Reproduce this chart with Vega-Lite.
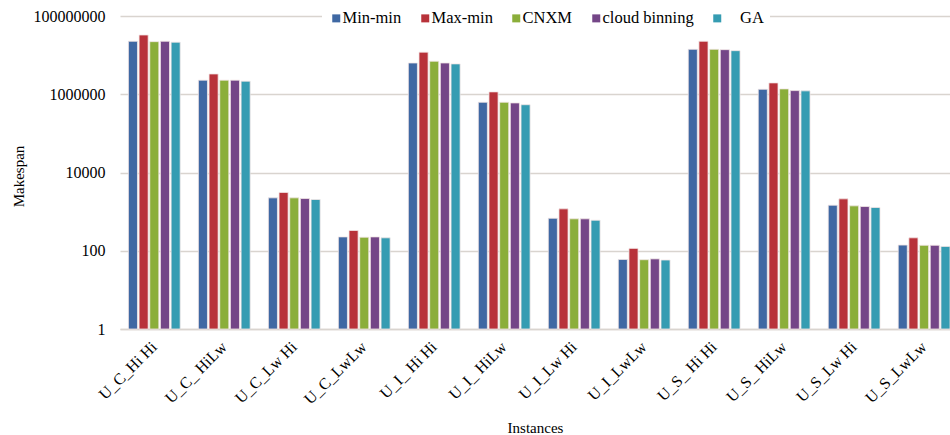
{
  "$schema": "https://vega.github.io/schema/vega-lite/v6.json",
  "autosize": {"type": "none"},
  "padding": {"left": 120, "top": 16, "right": 0, "bottom": 106},
  "width": 830,
  "height": 313,
  "background": "white",
  "config": {
    "font": "Liberation Serif",
    "view": {"stroke": null},
    "axis": {"labelFont": "Liberation Serif", "titleFont": "Liberation Serif"},
    "legend": {"labelFont": "Liberation Serif", "titleFont": "Liberation Serif"}
  },
  "data": {
    "values": [
      {"instance": "U_C_Hi Hi", "algo": "Min-min", "value": 22600000},
      {"instance": "U_C_Hi Hi", "algo": "Max-min", "value": 32700000},
      {"instance": "U_C_Hi Hi", "algo": "CNXM", "value": 22100000},
      {"instance": "U_C_Hi Hi", "algo": "cloud binning", "value": 22600000},
      {"instance": "U_C_Hi Hi", "algo": "GA", "value": 21400000},
      {"instance": "U_C_ HiLw", "algo": "Min-min", "value": 2290000},
      {"instance": "U_C_ HiLw", "algo": "Max-min", "value": 3300000},
      {"instance": "U_C_ HiLw", "algo": "CNXM", "value": 2290000},
      {"instance": "U_C_ HiLw", "algo": "cloud binning", "value": 2290000},
      {"instance": "U_C_ HiLw", "algo": "GA", "value": 2160000},
      {"instance": "U_C_Lw Hi", "algo": "Min-min", "value": 2250},
      {"instance": "U_C_Lw Hi", "algo": "Max-min", "value": 3090},
      {"instance": "U_C_Lw Hi", "algo": "CNXM", "value": 2250},
      {"instance": "U_C_Lw Hi", "algo": "cloud binning", "value": 2160},
      {"instance": "U_C_Lw Hi", "algo": "GA", "value": 2040},
      {"instance": "U_C_LwLw", "algo": "Min-min", "value": 226},
      {"instance": "U_C_LwLw", "algo": "Max-min", "value": 329},
      {"instance": "U_C_LwLw", "algo": "CNXM", "value": 222},
      {"instance": "U_C_LwLw", "algo": "cloud binning", "value": 226},
      {"instance": "U_C_LwLw", "algo": "GA", "value": 214},
      {"instance": "U_I_ Hi Hi", "algo": "Min-min", "value": 6300000},
      {"instance": "U_I_ Hi Hi", "algo": "Max-min", "value": 11900000},
      {"instance": "U_I_ Hi Hi", "algo": "CNXM", "value": 6980000},
      {"instance": "U_I_ Hi Hi", "algo": "cloud binning", "value": 6300000},
      {"instance": "U_I_ Hi Hi", "algo": "GA", "value": 5970000},
      {"instance": "U_I_ HiLw", "algo": "Min-min", "value": 625000},
      {"instance": "U_I_ HiLw", "algo": "Max-min", "value": 1150000},
      {"instance": "U_I_ HiLw", "algo": "CNXM", "value": 625000},
      {"instance": "U_I_ HiLw", "algo": "cloud binning", "value": 600000},
      {"instance": "U_I_ HiLw", "algo": "GA", "value": 540000},
      {"instance": "U_I_Lw Hi", "algo": "Min-min", "value": 677},
      {"instance": "U_I_Lw Hi", "algo": "Max-min", "value": 1177},
      {"instance": "U_I_Lw Hi", "algo": "CNXM", "value": 655},
      {"instance": "U_I_Lw Hi", "algo": "cloud binning", "value": 655},
      {"instance": "U_I_Lw Hi", "algo": "GA", "value": 603},
      {"instance": "U_I_LwLw", "algo": "Min-min", "value": 60},
      {"instance": "U_I_LwLw", "algo": "Max-min", "value": 115},
      {"instance": "U_I_LwLw", "algo": "CNXM", "value": 59},
      {"instance": "U_I_LwLw", "algo": "cloud binning", "value": 62},
      {"instance": "U_I_LwLw", "algo": "GA", "value": 58},
      {"instance": "U_S_ Hi Hi", "algo": "Min-min", "value": 14100000},
      {"instance": "U_S_ Hi Hi", "algo": "Max-min", "value": 22600000},
      {"instance": "U_S_ Hi Hi", "algo": "CNXM", "value": 14100000},
      {"instance": "U_S_ Hi Hi", "algo": "cloud binning", "value": 13800000},
      {"instance": "U_S_ Hi Hi", "algo": "GA", "value": 13000000},
      {"instance": "U_S_ HiLw", "algo": "Min-min", "value": 1340000},
      {"instance": "U_S_ HiLw", "algo": "Max-min", "value": 1950000},
      {"instance": "U_S_ HiLw", "algo": "CNXM", "value": 1370000},
      {"instance": "U_S_ HiLw", "algo": "cloud binning", "value": 1240000},
      {"instance": "U_S_ HiLw", "algo": "GA", "value": 1220000},
      {"instance": "U_S_Lw Hi", "algo": "Min-min", "value": 1460},
      {"instance": "U_S_Lw Hi", "algo": "Max-min", "value": 2120},
      {"instance": "U_S_Lw Hi", "algo": "CNXM", "value": 1405},
      {"instance": "U_S_Lw Hi", "algo": "cloud binning", "value": 1350},
      {"instance": "U_S_Lw Hi", "algo": "GA", "value": 1275},
      {"instance": "U_S_LwLw", "algo": "Min-min", "value": 140},
      {"instance": "U_S_LwLw", "algo": "Max-min", "value": 214},
      {"instance": "U_S_LwLw", "algo": "CNXM", "value": 138},
      {"instance": "U_S_LwLw", "algo": "cloud binning", "value": 138},
      {"instance": "U_S_LwLw", "algo": "GA", "value": 129}
    ]
  },
  "mark": {"type": "bar", "stroke": "#f3e6e6", "strokeWidth": 0.8},
  "encoding": {
    "x": {
      "field": "instance",
      "type": "nominal",
      "sort": null,
      "scale": {"paddingInner": 0.26, "paddingOuter": 0.06, "align": 1},
      "axis": {
        "title": "Instances",
        "titleFont": "Liberation Serif",
        "titleFontSize": 15,
        "titleFontWeight": "normal",
        "titleColor": "#000000",
        "titleBaseline": "alphabetic",
        "titleY": 103,
        "labelFont": "Liberation Serif",
        "labelAngle": -45,
        "labelAlign": "right",
        "labelBaseline": "middle",
        "labelFontSize": 16,
        "labelColor": "#000000",
        "labelPadding": 15,
        "ticks": false,
        "domain": true,
        "domainColor": "#d9d4cf",
        "domainWidth": 1.5,
        "grid": false
      }
    },
    "xOffset": {
      "field": "algo",
      "type": "nominal",
      "sort": ["Min-min", "Max-min", "CNXM", "cloud binning", "GA"],
      "scale": {"paddingInner": 0.15}
    },
    "y": {
      "field": "value",
      "type": "quantitative",
      "scale": {"type": "log", "domain": [1, 100000000]},
      "axis": {
        "title": "Makespan",
        "titleFont": "Liberation Serif",
        "titleFontSize": 15,
        "titleFontWeight": "normal",
        "titleColor": "#000000",
        "titleAngle": 270,
        "titleAlign": "center",
        "titleBaseline": "middle",
        "titleX": -102,
        "titleY": 160,
        "values": [1, 100, 10000, 1000000, 100000000],
        "format": ".0f",
        "labelFont": "Liberation Serif",
        "labelFontSize": 16,
        "labelColor": "#000000",
        "labelPadding": 15,
        "ticks": false,
        "domain": false,
        "grid": true,
        "gridColor": "#d9d4cf",
        "gridWidth": 1.5
      }
    },
    "y2": {"datum": 1},
    "color": {
      "field": "algo",
      "type": "nominal",
      "scale": {
        "domain": ["Min-min", "Max-min", "CNXM", "cloud binning", "GA"],
        "range": ["#3f68a3", "#b8323a", "#8bae3a", "#744687", "#359cb2"]
      },
      "legend": {
        "title": null,
        "orient": "none",
        "direction": "horizontal",
        "legendX": 202,
        "legendY": -12,
        "fillColor": "white",
        "padding": 6,
        "symbolType": "square",
        "symbolSize": 64,
        "symbolStrokeWidth": 0,
        "labelFont": "Liberation Serif",
        "labelFontSize": 16.5,
        "labelColor": "#000000",
        "labelOffset": -2,
        "columnPadding": 15,
        "labelExpr": "datum.value == 'GA' ? '\u200b\u00a0\u00a0\u00a0\u00a0GA' : datum.label"
      }
    }
  }
}
